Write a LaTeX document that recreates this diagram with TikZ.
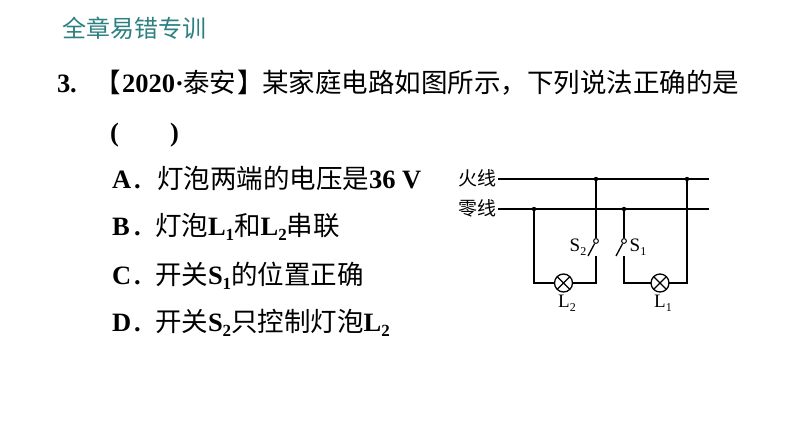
\documentclass[tikz,border=0pt]{standalone}
\usepackage{fontspec}
\setmainfont{Liberation Serif}
\newfontfamily\cjk{Noto Sans CJK SC}
\newfontfamily\serf{Liberation Serif}
\newcommand{\lat}[1]{{\serf\bfseries #1}}
\newcommand{\sbs}[2]{{\serf\bfseries #1\raisebox{-0.22em}{\fontsize{17}{17}\selectfont #2}}}
\newcommand{\lsub}[2]{{\serf #1\raisebox{-0.25em}{\fontsize{12}{12}\selectfont #2}}}
\begin{document}
\begin{tikzpicture}[x=1pt,y=-1pt,
  txt/.style={anchor=base west,inner sep=0pt,outer sep=0pt,font=\fontsize{26.5}{26.5}\selectfont\cjk},
  small/.style={anchor=base,inner sep=0pt,outer sep=0pt,font=\fontsize{19}{19}\selectfont},
  wlabel/.style={anchor=east,inner sep=0pt,font=\fontsize{19}{19}\selectfont\cjk},
  wirethin/.style={line width=1.3pt,black},
  wirethick/.style={line width=1.9pt,black},
  dotj/.style={circle,fill=black,inner sep=0pt,minimum size=4.4pt},
  contact/.style={circle,draw=black,fill=white,line width=1pt,inner sep=0pt,minimum size=4.8pt},
  lamp/.style={circle,draw=black,fill=white,line width=1.3pt,inner sep=0pt,minimum size=18pt,path picture={
    \draw[line width=1.2pt] (path picture bounding box.south west)--(path picture bounding box.north east)
    (path picture bounding box.north west)--(path picture bounding box.south east);}}]
\useasboundingbox (0,0) rectangle (794,447);
\fill[white] (0,0) rectangle (794,447);
\node[txt,text=teal!65!gray,font=\fontsize{24}{24}\selectfont\cjk] (title) at (62,37) {全章易错专训};
\node[txt] (qn) at (57,92) {\lat{3}};
\node[txt] (qd) at (70,92) {\lat{.}};
\node[txt] (qa) at (94,92) {【};
\node[txt] (qy) at (122,92) {\lat{2020·}};
\node[txt] (qp) at (183,92) {泰安};
\node[txt] (qc) at (237,92) {】};
\node[txt] (qb) at (262,92) {某家庭电路如图所示，下列说法正确的是};
\node[txt] (pl) at (110,141) {\lat{(}};
\node[txt] (pr) at (170,141) {\lat{)}};
\node[txt] (al) at (112,188) {\lat{A}};
\node[txt] (ald) at (134,188) {\lat{.}};
\node[txt] (at) at (157,188) {灯泡两端的电压是\lat{36 V}};
\node[txt] (bl) at (112,235) {\lat{B}};
\node[txt] (bld) at (134,235) {\lat{.}};
\node[txt] (bt) at (155,235) {灯泡\sbs{L}{1}和\sbs{L}{2}串联};
\node[txt] (cl) at (112,284) {\lat{C}};
\node[txt] (cld) at (134,284) {\lat{.}};
\node[txt] (ct) at (155,284) {开关\sbs{S}{1}的位置正确};
\node[txt] (dl) at (112,331) {\lat{D}};
\node[txt] (dld) at (134,331) {\lat{.}};
\node[txt] (dt) at (155,331) {开关\sbs{S}{2}只控制灯泡\sbs{L}{2}};
% circuit
\node[wlabel] (hot) at (497,178) {火线};
\node[wlabel] (neu) at (497,208) {零线};
\coordinate (hotr) at (709,179);
\coordinate (neur) at (709,209);
\coordinate (hotl) at (498,179);
\coordinate (neul) at (498,209);
\node[dotj] (j1) at (534,209) {};
\node[dotj] (j2) at (596,179) {};
\node[dotj] (j3) at (624,209) {};
\node[dotj] (j4) at (687,179) {};
\coordinate (cl2) at (534,283);
\coordinate (cr2) at (596,283);
\coordinate (cl1) at (624,283);
\coordinate (cr1) at (687,283);
\coordinate (s2b) at (596,256);
\coordinate (s2e) at (588,256);
\coordinate (s1b) at (624,256);
\coordinate (s1e) at (616,256);
\draw[wirethick] (hotl)--(hotr);
\draw[wirethin] (neul)--(neur);
\draw[wirethin] (j1)--(cl2)--(cr2)--(s2b);
\draw[wirethin] (s1b)--(cl1)--(cr1)--(j4);
\node[contact] (s2) at (596,241) {};
\node[contact] (s1) at (624,241) {};
\draw[wirethin] (j2)--(s2);
\draw[wirethin] (j3)--(s1);
\draw[wirethin] (s2)--(s2e);
\draw[wirethin] (s1)--(s1e);
\node[lamp] (l2) at (563.5,283) {};
\node[lamp] (l1) at (660,283) {};
\node[small] (ls2) at (578,251) {\lsub{S}{2}};
\node[small] (ls1) at (638,251) {\lsub{S}{1}};
\node[small] (ll2) at (567,307) {\lsub{L}{2}};
\node[small] (ll1) at (663,307) {\lsub{L}{1}};
\end{tikzpicture}
\end{document}
